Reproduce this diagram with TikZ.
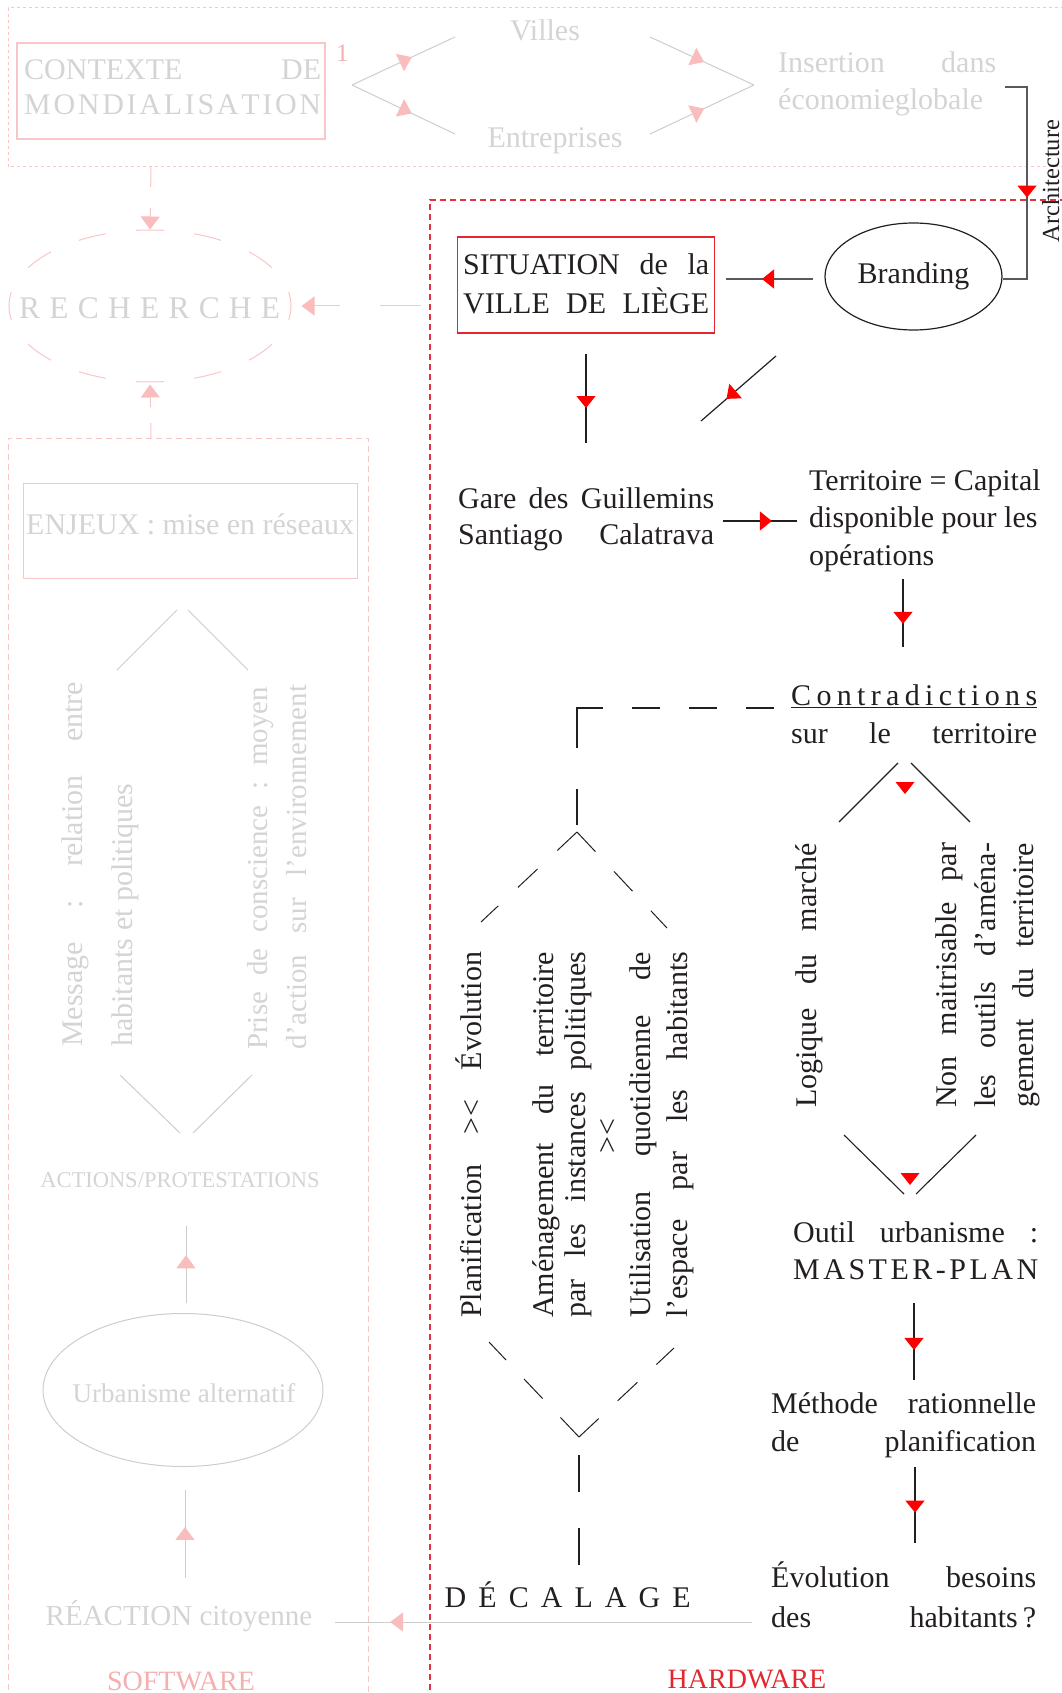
\documentclass[tikz,border=0pt]{standalone}
\usepackage{fontspec}
\setmainfont{Liberation Serif}
\usetikzlibrary{arrows.meta,decorations.markings,shapes.geometric}

\definecolor{ink}{HTML}{231F20}
\definecolor{inkgray}{HTML}{58595B}
\definecolor{fade}{HTML}{D4D4D4}
\definecolor{fadeline}{HTML}{CDCDCD}
\definecolor{pinkline}{HTML}{F8C6C7}
\definecolor{pinkhead}{HTML}{FABDBE}
\definecolor{pinktext}{HTML}{F4AFB1}
\definecolor{redhead}{HTML}{FF0000}
\definecolor{redbox}{HTML}{E2282E}
\definecolor{redframe}{HTML}{E03540}

\newcommand{\bodyfont}{\fontsize{30}{36}\selectfont}
\newcommand{\jbox}[2]{\hbox to #1pt{#2}}

\begin{document}
\begin{tikzpicture}[x=1pt,y=-1pt,
  txt/.style={inner sep=0pt,text=ink,font=\bodyfont},
  ftxt/.style={inner sep=0pt,text=fade,font=\bodyfont},
  inkln/.style={draw=ink,line width=1.2pt},
  grayln/.style={draw=inkgray,line width=1.3pt},
  fadeln/.style={draw=fadeline,line width=1pt},
  pinkln/.style={draw=pinkline,line width=1pt},
  redmid/.style={postaction={decorate},decoration={markings,
    mark=at position #1 with {\arrow{Triangle[length=12pt,width=19pt,color=redhead]}}}},
  pinkmid/.style={postaction={decorate},decoration={markings,
    mark=at position #1 with {\arrow{Triangle[length=13pt,width=19pt,color=pinkhead]}}}},
  pinkend/.style={-{Triangle[length=13pt,width=19pt,color=pinkhead]}},
  plainbox/.style={rectangle,inner sep=0pt,line width=1.1pt}]

\useasboundingbox (0,0) rectangle (1061,1693);

% ---------- frames ----------
\draw[draw=pinkline,line width=1pt,dash pattern=on 3pt off 3pt]
  (1070,8) -- (8,8) -- (8,167) -- (1070,167);
\draw[draw=pinkline,line width=1pt,dash pattern=on 6pt off 4pt]
  (8,1710) -- (8,438) -- (368,438) -- (368,1710);
\draw[draw=redframe,line width=1.1pt,dash pattern=on 6pt off 4pt]
  (430,1710) -- (430,200) -- (1070,200);

% ---------- globalisation context ----------
\node[plainbox,draw=pinkline,minimum width=308pt,minimum height=96pt] (ctxbox) at (171,91) {};
\node[ftxt,anchor=base west] (ctx1) at (24,80) {\jbox{297}{CONTEXTE\hfill DE}};
\node[ftxt,anchor=base west] (ctx2) at (24,115)
  {\jbox{297}{M\hfill O\hfill N\hfill D\hfill I\hfill A\hfill L\hfill I\hfill S\hfill A\hfill T\hfill I\hfill O\hfill N}};
\node[inner sep=0pt,text=pinktext,font=\fontsize{25}{30}\selectfont,anchor=base west] (num) at (336,62) {1};

\node[ftxt,anchor=base] (villes) at (545,41) {Villes};
\node[ftxt,anchor=base] (entr) at (555,148) {Entreprises};
\node[ftxt,anchor=base west] (ins1) at (778,73) {\jbox{218}{Insertion\hfill dans}};
\node[ftxt,anchor=base west] (ins2) at (778,110) {économieglobale};

\coordinate (dl) at (352,85);
\coordinate (dlu) at (455,37);
\coordinate (dld) at (455,134);
\coordinate (dru) at (650,37);
\coordinate (drd) at (650,134);
\coordinate (dr) at (754,85);
\draw[fadeln,pinkmid=0.58] (dl) -- (dlu);
\draw[fadeln,pinkmid=0.58] (dl) -- (dld);
\draw[fadeln,pinkmid=0.52] (dru) -- (dr);
\draw[fadeln,pinkmid=0.52] (drd) -- (dr);

% ---------- research ----------
\node[ellipse,draw=pinkline,line width=1pt,dash pattern=on 28pt off 30.1pt,dash phase=14pt,
  minimum width=282pt,minimum height=152pt,inner sep=0pt] (rech) at (150,306) {};
\node[ftxt,anchor=base west,font=\fontsize{31.5}{36}\selectfont] (rechtxt) at (19,319)
  {\jbox{261}{R\hfill E\hfill C\hfill H\hfill E\hfill R\hfill C\hfill H\hfill E}};

\coordinate (ctxdown) at (151,167);
\draw[pinkln,pinkend,dash pattern=on 20pt off 21pt on 40pt off 10pt] (ctxdown) -- (rech.north);
\coordinate (hwleft) at (421,306);
\draw[pinkln,pinkend,dash pattern=on 41pt off 40pt on 60pt off 10pt] (hwleft) -- ([xshift=10pt]rech.east);
\coordinate (swtop) at (151,438);
\draw[pinkln,pinkend,dash pattern=on 15pt off 16pt on 40pt off 10pt] (swtop) -- ([yshift=-2pt]rech.south);

% ---------- software column ----------
\node[plainbox,draw=pinkline,line width=1pt,minimum width=334pt,minimum height=95pt] (enjbox) at (190,530.5) {};
\node[ftxt,anchor=base west] (enj) at (26,534) {\jbox{328}{ENJEUX\hfill :\hfill mise\hfill en\hfill réseaux}};

\coordinate (e1a) at (177,610); \coordinate (e1b) at (117,670);
\coordinate (e2a) at (188,610); \coordinate (e2b) at (248,670);
\draw[fadeln] (e1a) -- (e1b);
\draw[fadeln] (e2a) -- (e2b);

\node[ftxt,rotate=90,anchor=base west] (msg1) at (82,1047)
  {\jbox{365}{Message\hfill :\hfill relation\hfill entre}};
\node[ftxt,rotate=90,anchor=base west] (msg2) at (132,1047) {habitants et politiques};
\node[ftxt,font=\fontsize{29}{34}\selectfont,rotate=90,anchor=base west] (prise1) at (267,1050)
  {\jbox{363}{Prise\hfill de\hfill conscience\hfill :\hfill moyen}};
\node[ftxt,font=\fontsize{29}{34}\selectfont,rotate=90,anchor=base west] (prise2) at (306,1050)
  {\jbox{365}{d’action\hfill sur\hfill l’environnement}};

\coordinate (m1a) at (120,1075); \coordinate (m1b) at (180,1133);
\coordinate (m2a) at (252,1075); \coordinate (m2b) at (193,1133);
\draw[fadeln] (m1a) -- (m1b);
\draw[fadeln] (m2a) -- (m2b);

\node[ftxt,font=\fontsize{22.5}{27}\selectfont,anchor=base] (actions) at (180,1187) {ACTIONS/PROTESTATIONS};

\coordinate (ua) at (186,1303); \coordinate (ub) at (186,1226);
\draw[fadeln,pinkmid=0.62] (ua) -- (ub);

\node[ellipse,draw=fadeline,line width=1pt,minimum width=280pt,minimum height=153pt,inner sep=0pt] (urbell) at (183,1390) {};
\node[ftxt,font=\fontsize{27}{32}\selectfont,anchor=base] (urb) at (184,1402) {Urbanisme alternatif};

\coordinate (ra) at (185,1578); \coordinate (rb) at (185,1490);
\draw[fadeln,pinkmid=0.58] (ra) -- (rb);

\node[ftxt,font=\fontsize{29}{34}\selectfont,anchor=base] (reac) at (179,1625) {RÉACTION citoyenne};
\node[inner sep=0pt,text=pinktext,font=\fontsize{28}{33}\selectfont,anchor=base] (soft) at (181,1690) {SOFTWARE};

% ---------- hardware column ----------
\node[plainbox,draw=redbox,minimum width=257pt,minimum height=96pt] (sit) at (586,285) {};
\node[txt,anchor=base west] (sit1) at (463,275) {\jbox{246}{SITUATION\hfill de\hfill la}};
\node[txt,anchor=base west] (sit2) at (463,313) {\jbox{246}{VILLE\hfill DE\hfill LIÈGE}};

\node[ellipse,draw=ink,line width=1.2pt,minimum width=177pt,minimum height=107pt,inner sep=0pt,
  text=ink,font=\bodyfont] (brand) at (913.5,276.5) {Branding};

\coordinate (insend) at (1005,87);
\coordinate (bk1) at (1027,87);
\coordinate (bk2) at (1027,279);
\draw[grayln,redmid=0.556] (insend) -- (bk1) -- (bk2) -- (brand.east |- bk2);
\node[inner sep=0pt,text=ink,font=\fontsize{24.5}{29}\selectfont,rotate=90,anchor=base] (archi) at (1059,181) {Architecture};

\coordinate (bsa) at (813,279); \coordinate (bsb) at (726,279);
\draw[grayln,redmid=0.586] (bsa) -- (bsb);

\coordinate (sda) at (586,354); \coordinate (sdb) at (586,443);
\draw[inkln,redmid=0.607] (sda) -- (sdb);

\coordinate (dga) at (776,356); \coordinate (dgb) at (701,421);
\draw[inkln,redmid=0.66] (dga) -- (dgb);

\node[txt,anchor=base west] (gare1) at (458,508) {\jbox{256}{Gare\hfill des\hfill Guillemins}};
\node[txt,anchor=base west] (gare2) at (458,544) {\jbox{256}{Santiago\hfill Calatrava}};

\coordinate (gta) at (723,521); \coordinate (gtb) at (797,521);
\draw[inkln,redmid=0.66] (gta) -- (gtb);

\node[txt,anchor=base west] (terr1) at (809,490) {Territoire = Capital};
\node[txt,anchor=base west] (terr2) at (809,527) {disponible pour les};
\node[txt,anchor=base west] (terr3) at (809,565) {opérations};

\coordinate (tda) at (903,579); \coordinate (tdb) at (903,647);
\draw[inkln,redmid=0.66] (tda) -- (tdb);

\node[txt,anchor=base west] (contra) at (791,705)
  {\jbox{246}{C\hfill o\hfill n\hfill t\hfill r\hfill a\hfill d\hfill i\hfill c\hfill t\hfill i\hfill o\hfill n\hfill s}};
\draw[draw=ink,line width=1.1pt] ([yshift=-2.5pt]contra.base west) -- ([yshift=-2.5pt]contra.base east);
\node[txt,anchor=base west] (sur) at (791,743) {\jbox{246}{sur\hfill le\hfill territoire}};

% split under the contradictions
\coordinate (ct1a) at (898,763); \coordinate (ct1b) at (839,822);
\coordinate (ct2a) at (911,763); \coordinate (ct2b) at (970,822);
\draw[inkln,line width=1.1pt] (ct1a) -- (ct1b);
\draw[inkln,line width=1.1pt] (ct2a) -- (ct2b);
\fill[redhead] (895.5,782) -- (914.5,782) -- (905,794) -- cycle;

\node[txt,rotate=90,anchor=base west] (logi) at (816,1108) {\jbox{265}{Logique\hfill du\hfill marché}};
\node[txt,rotate=90,anchor=base west] (nm1) at (956,1108) {\jbox{265}{Non\hfill maitrisable\hfill par}};
\node[txt,rotate=90,anchor=base west] (nm2) at (995,1108) {\jbox{265}{les\hfill outils\hfill d’aména-}};
\node[txt,rotate=90,anchor=base west] (nm3) at (1033,1108) {\jbox{265}{gement\hfill du\hfill territoire}};

\coordinate (cb1a) at (844,1135); \coordinate (cb1b) at (904,1194);
\coordinate (cb2a) at (976,1135); \coordinate (cb2b) at (916,1194);
\draw[inkln,line width=1.1pt] (cb1a) -- (cb1b);
\draw[inkln,line width=1.1pt] (cb2a) -- (cb2b);
\fill[redhead] (900.5,1173) -- (919.5,1173) -- (910,1185) -- cycle;

\node[txt,anchor=base west] (outil1) at (793,1242) {\jbox{245}{Outil\hfill urbanisme\hfill :}};
\node[txt,anchor=base west] (outil2) at (793,1279)
  {\jbox{245}{M\hfill A\hfill S\hfill T\hfill E\hfill R\hfill -\hfill P\hfill L\hfill A\hfill N}};

\coordinate (oda) at (914,1303); \coordinate (odb) at (914,1380);
\draw[inkln,redmid=0.61] (oda) -- (odb);

\node[txt,anchor=base west] (meth1) at (771,1413) {\jbox{265}{Méthode\hfill rationnelle}};
\node[txt,anchor=base west] (meth2) at (771,1451) {\jbox{265}{de\hfill planification}};

\coordinate (mda) at (915,1467); \coordinate (mdb) at (915,1543);
\draw[inkln,redmid=0.6] (mda) -- (mdb);

\node[txt,anchor=base west] (evo1) at (771,1587) {\jbox{265}{Évolution\hfill besoins}};
\node[txt,anchor=base west] (evo2) at (771,1627) {\jbox{265}{des\hfill habitants\,?}};

% ---------- planning gap ----------
\coordinate (cdA) at (774,708); \coordinate (cdB) at (577,708); \coordinate (cdC) at (577,825);
\draw[inkln,line width=1.1pt,dash pattern=on 28pt off 29pt on 28pt off 29pt on 28pt off 29pt on 66pt off 41pt on 36pt off 200pt]
  (cdA) -- (cdB) -- (cdC);

\coordinate (pT) at (577,832); \coordinate (pTL) at (481,922); \coordinate (pTR) at (667,928);
\draw[inkln,line width=1pt,dash pattern=on 27pt off 27pt] (pT) -- (pTL);
\draw[inkln,line width=1pt,dash pattern=on 27pt off 27pt] (pT) -- (pTR);

\node[txt,rotate=90,anchor=base west] (plan) at (481,1318)
  {\jbox{366}{Planification\hfill >\kern1pt<\hfill Évolution}};
\node[txt,rotate=90,anchor=base west] (amen1) at (553,1318) {\jbox{366}{Aménagement\hfill du\hfill territoire}};
\node[txt,rotate=90,anchor=base west] (amen2) at (585,1318) {\jbox{366}{par\hfill les\hfill instances\hfill politiques}};
\node[txt,rotate=90,anchor=base] (vs) at (617,1136) {>\kern1pt<};
\node[txt,rotate=90,anchor=base west] (util1) at (650,1318) {\jbox{366}{Utilisation\hfill quotidienne\hfill de}};
\node[txt,rotate=90,anchor=base west] (util2) at (687,1318) {\jbox{366}{l’espace\hfill par\hfill les\hfill habitants}};

\coordinate (pB) at (579,1437); \coordinate (pBL) at (489,1342); \coordinate (pBR) at (674,1348);
\draw[inkln,line width=1pt,dash pattern=on 27pt off 26pt] (pB) -- (pBL);
\draw[inkln,line width=1pt,dash pattern=on 27pt off 26pt] (pB) -- (pBR);

\coordinate (dv1) at (579,1455); \coordinate (dv2) at (579,1565);
\draw[inkln,line width=1.1pt,dash pattern=on 37pt off 36pt] (dv1) -- (dv2);

\node[txt,anchor=base west] (decal) at (444.5,1607)
  {\jbox{246}{D\hfill É\hfill C\hfill A\hfill L\hfill A\hfill G\hfill E}};

\coordinate (gla) at (752,1622); \coordinate (glb) at (335,1622);
\draw[fadeln,pinkmid=0.868] (gla) -- (glb);

\node[inner sep=0pt,text=redbox,font=\fontsize{28}{33}\selectfont,anchor=base] (hard) at (747,1688) {HARDWARE};

\end{tikzpicture}
\end{document}
